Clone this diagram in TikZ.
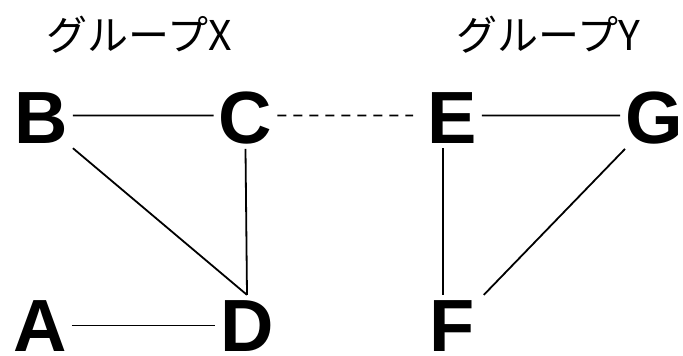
\documentclass[tikz,border=0pt]{standalone}
\usepackage{fontspec}
\setmainfont{Liberation Sans}
\newfontfamily\jpfont{Noto Sans CJK JP}
\begin{document}
\begin{tikzpicture}[x=1pt,y=-1pt,
  vtx/.style={font=\fontsize{74}{74}\selectfont\bfseries, inner sep=5pt, anchor=base},
  vtxlow/.style={vtx, inner ysep=2pt},
  grp/.style={font=\jpfont\fontsize{41}{41}\selectfont, inner sep=0pt, anchor=base},
  link/.style={line width=1.8pt, black},
  dlink/.style={link, dash pattern=on 9pt off 7pt}]
\useasboundingbox (0,0) rectangle (683,356);
\node[grp] (gx) at (139,50) {グループX};
\node[grp] (gy) at (548.5,50) {グループY};
\node[vtx] (B) at (41,143) {B};
\node[vtx] (C) at (245.5,143) {C};
\node[vtx] (E) at (452,143) {E};
\node[vtx] (G) at (654,143) {G};
\node[vtxlow] (A) at (40,351) {A};
\node[vtxlow] (D) at (247,351) {D};
\node[vtxlow] (F) at (452,351) {F};
\draw[link] ([yshift=2pt]B.east) -- ([yshift=2pt]C.west);
\draw[dlink] ([yshift=2pt]C.east) -- ([xshift=-9pt,yshift=2pt]E.west);
\draw[link] ([yshift=2pt]E.east) -- ([yshift=2pt]G.west);
\draw[link] (A.east) -- (D.west);
\draw[link] (B.south east) -- ([yshift=3pt]D.north);
\draw[link] (C.south) -- ([yshift=3pt]D.north);
\draw[link] ([xshift=-9pt]E.south) -- ([xshift=-9pt,yshift=3pt]F.north);
\draw[link] ([xshift=5pt]G.south west) -- ([xshift=4pt,yshift=3pt]F.north east);
\end{tikzpicture}
\end{document}
